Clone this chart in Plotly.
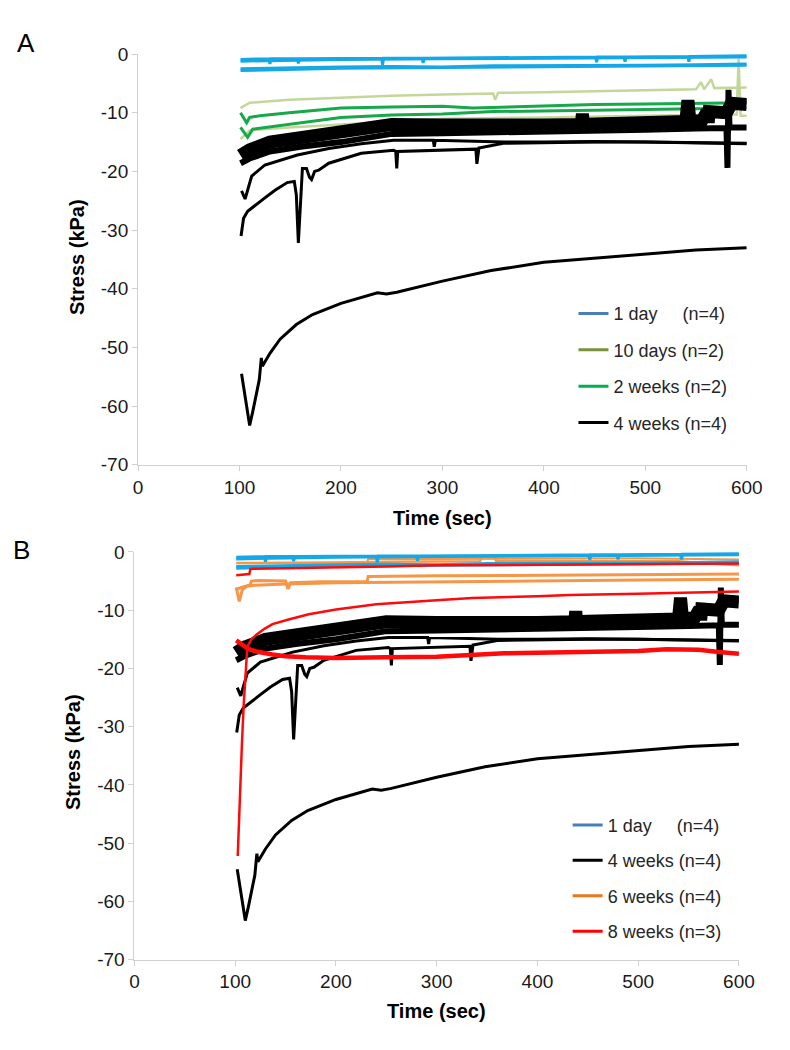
import plotly.graph_objects as go

# ---------------- data ----------------
# 1 day (blue) - shared by panels A and B
blue1_t = [101, 129, 130, 131, 157, 158, 159, 240, 241, 242, 280, 281, 282, 451, 452, 453, 479, 480, 481, 542, 543, 544, 600]
blue1_v = [-0.9, -0.8, -1.7, -0.8, -0.8, -1.6, -0.8, -0.7, -1.8, -0.7, -0.7, -1.5, -0.7, -0.5, -1.4, -0.5, -0.5, -1.3, -0.5, -0.4, -1.3, -0.4, -0.3]
blue2_t = [101, 200, 300, 400, 500, 600]
blue2_v = [-1.2, -0.9, -0.8, -0.7, -0.6, -0.5]
blue3_t = [101, 150, 200, 250, 300, 350, 400, 450, 500, 550, 600]
blue3_v = [-2.5, -2.3, -2.2, -2.1, -2.2, -2.0, -2.0, -1.9, -1.9, -1.8, -1.7]
blue4_t = [101, 200, 300, 400, 500, 600]
blue4_v = [-2.8, -2.4, -2.3, -2.2, -2.1, -1.9]

# 10 days (khaki) - panel A
khaki1_t = [101, 110, 149, 200, 250, 300, 350, 352, 355, 400, 450, 500, 550, 555, 558, 565, 568, 600]
khaki1_v = [-9.2, -8.3, -7.8, -7.4, -7.1, -6.9, -6.7, -7.8, -6.6, -6.5, -6.3, -6.2, -6.0, -4.8, -6.0, -4.3, -5.8, -5.7]
khaki2_t = [101, 105, 110, 149, 200, 300, 400, 450, 500, 550, 590, 592, 594, 600]
khaki2_v = [-14.5, -13.8, -13.0, -12.5, -12.0, -11.0, -10.8, -10.6, -10.5, -10.4, -10.3, -0.8, -10.5, -10.5]

# 2 weeks (green) - panel A
green1_t = [101, 107, 110, 120, 149, 200, 250, 300, 330, 400, 450, 500, 550, 600]
green1_v = [-10.0, -11.7, -10.8, -10.5, -10.0, -9.2, -9.0, -8.9, -9.2, -8.8, -8.6, -8.5, -8.4, -8.3]
green2_t = [101, 108, 113, 149, 200, 250, 300, 350, 400, 450, 500, 550, 600]
green2_v = [-12.5, -14.2, -12.8, -12.0, -10.8, -10.4, -10.2, -9.8, -9.7, -9.5, -9.4, -9.3, -9.2]

# 4 weeks (black) - shared by panels A and B
blackA_t = [101, 110, 130, 160, 200, 250, 300, 350, 400, 437, 438, 439, 450, 500, 540, 542, 544, 556, 558, 561, 562, 563, 580, 582, 585, 600]
blackA_v = [-17.3, -16.3, -15.0, -14.2, -13.3, -12.0, -12.1, -12.3, -12.1, -12.0, -10.2, -12.0, -11.9, -11.7, -11.5, -7.9, -11.5, -11.3, -9.8, -9.8, -11.7, -9.8, -10.0, -8.6, -8.4, -8.6]
blackB_t = [101, 110, 130, 160, 200, 230, 250, 300, 350, 400, 450, 500, 550, 580, 581, 582, 583, 600]
blackB_v = [-18.6, -17.8, -16.6, -15.8, -15.0, -14.2, -13.6, -13.5, -13.4, -13.2, -13.0, -12.9, -12.7, -12.6, -19.4, -6.1, -12.5, -12.5]
blackC_t = [102, 105.5, 112, 125, 157, 188, 220, 252, 291, 292, 293, 330, 361, 400, 450, 500, 550, 600]
blackC_v = [-23.3, -24.7, -20.8, -18.9, -17.2, -16.1, -15.3, -14.7, -14.7, -15.8, -14.7, -14.9, -15.0, -15.0, -14.9, -15.0, -15.1, -15.2]
blackD_t = [101.5, 104, 108, 115, 125, 135, 147, 154, 156, 158, 160, 162, 166, 169, 171, 174, 178, 188, 220, 252, 254, 255, 256, 300, 333, 334, 336, 360, 400, 450, 500, 550, 600]
blackD_v = [-31.0, -28.0, -26.8, -25.8, -24.5, -23.2, -21.9, -21.7, -24.0, -32.2, -26.0, -19.5, -19.5, -21.0, -21.4, -20.0, -19.8, -18.6, -16.9, -16.4, -16.6, -19.5, -16.6, -16.3, -16.2, -18.7, -16.0, -15.2, -15.1, -15.0, -15.0, -15.1, -15.3]
blackE_t = [102, 110, 113, 116, 119.5, 121.5, 122.5, 130, 140, 156, 172, 200, 220, 236, 245, 255, 300, 348, 400, 450, 500, 550, 600]
blackE_v = [-54.5, -63.3, -61.0, -58.5, -55.5, -51.8, -53.2, -51.0, -48.6, -46.1, -44.4, -42.5, -41.5, -40.7, -40.9, -40.6, -38.7, -36.9, -35.5, -34.8, -34.0, -33.4, -33.0]

# 6 weeks (orange) - panel B
orange1_t = [101, 150, 200, 250, 300, 343, 345, 357, 359, 400, 450, 500, 540, 570, 600]
orange1_v = [-1.9, -1.9, -1.8, -1.7, -1.6, -1.6, -0.7, -0.7, -1.6, -1.6, -1.6, -1.6, -1.6, -2.0, -2.3]
orange2_t = [101, 104, 107, 112, 115, 116, 124, 150, 152, 153, 155, 185, 231, 232, 300, 400, 500, 540, 542, 600]
orange2_v = [-6.1, -8.5, -6.5, -5.8, -5.6, -5.0, -4.9, -5.0, -6.2, -6.2, -5.3, -5.1, -5.1, -4.2, -4.1, -4.0, -3.9, -3.9, -3.8, -3.8]
orange3_t = [101, 105, 110, 120, 150, 200, 300, 400, 500, 600]
orange3_v = [-6.4, -6.2, -5.9, -5.7, -5.5, -5.3, -5.1, -4.9, -4.8, -4.7]
orange4_t = [230, 232, 300, 400, 500, 560, 600]
orange4_v = [-2.2, -1.2, -1.2, -1.1, -1.1, -1.2, -1.3]

# 8 weeks (red) - panel B
red1_t = [101, 114, 115, 116, 150, 200, 250, 300, 400, 500, 600]
red1_v = [-4.0, -3.8, -3.0, -2.9, -2.8, -2.7, -2.5, -2.3, -2.2, -2.1, -2.0]
red2_t = [102.5, 104.5, 106.6, 108.5, 110, 112, 116, 121, 129, 137, 153, 173, 200, 240, 300, 335, 400, 432, 500, 528, 560, 600]
red2_v = [-52.2, -42.0, -33.2, -26.0, -21.4, -16.3, -15.0, -14.2, -13.2, -12.4, -11.6, -10.7, -9.9, -9.0, -8.3, -7.9, -7.6, -7.4, -7.2, -7.1, -6.9, -6.8]
red3_t = [101, 105, 110, 115, 121, 137, 150, 170, 200, 250, 300, 367, 400, 464, 500, 528, 560, 580, 600]
red3_v = [-15.2, -15.8, -16.3, -16.8, -17.1, -17.6, -17.9, -18.1, -18.2, -18.1, -18.0, -17.4, -17.3, -17.3, -17.0, -16.7, -16.8, -17.2, -17.5]

# legends
legendA_names = ["1 day\u00a0\u00a0\u00a0\u00a0 (n=4)", "10 days (n=2)", "2 weeks (n=2)", "4 weeks (n=4)"]
legendA_colors = ["#4A7EBB", "#77933C", "#00B050", "#000000"]
legendB_names = ["1 day\u00a0\u00a0\u00a0\u00a0 (n=4)", "4 weeks (n=4)", "6 weeks (n=4)", "8 weeks (n=3)"]
legendB_colors = ["#4A7EBB", "#000000", "#E8771E", "#FF0000"]

# axes ticks
x_ticks = [0, 100, 200, 300, 400, 500, 600]
x_tick_text = ["0", "100", "200", "300", "400", "500", "600"]
y_ticks = [0, -10, -20, -30, -40, -50, -60, -70]
y_tick_text = ["0", "-10", "-20", "-30", "-40", "-50", "-60", "-70"]

# ---------------- styles ----------------
C_BLUE = "#14A8E6"
C_KHAKI = "#C4D79B"
C_GREEN = "#16A84A"
C_BLACK = "#000000"
C_ORANGE = "#F79646"
C_RED = "#FF0A0A"
FONT = "Arial, Liberation Sans, sans-serif"

fig = go.Figure()


def add(t, v, color, width, ax):
    xa, ya = ("x", "y") if ax == "A" else ("x2", "y2")
    fig.add_trace(go.Scatter(x=t, y=v, mode="lines", line=dict(color=color, width=width),
                             showlegend=False, hoverinfo="skip", xaxis=xa, yaxis=ya))


black_sets = [(blackA_t, blackA_v, 13), (blackB_t, blackB_v, 6), (blackC_t, blackC_v, 3),
              (blackD_t, blackD_v, 3), (blackE_t, blackE_v, 3)]
blue_sets = [(blue1_t, blue1_v), (blue2_t, blue2_v), (blue3_t, blue3_v), (blue4_t, blue4_v)]

# Panel A
add(khaki1_t, khaki1_v, C_KHAKI, 2.5, "A")
add(khaki2_t, khaki2_v, C_KHAKI, 2.5, "A")
add(green1_t, green1_v, C_GREEN, 3, "A")
add(green2_t, green2_v, C_GREEN, 3, "A")
for t, v, w in black_sets:
    add(t, v, C_BLACK, w, "A")
for t, v in blue_sets:
    add(t, v, C_BLUE, 3, "A")

# Panel B
for t, v, w in black_sets:
    add(t, v, C_BLACK, w, "B")
add(orange4_t, orange4_v, C_ORANGE, 2, "B")
add(orange1_t, orange1_v, C_ORANGE, 2.5, "B")
for t, v in blue_sets:
    add(t, v, C_BLUE, 3, "B")
add(orange2_t, orange2_v, C_ORANGE, 3, "B")
add(orange3_t, orange3_v, C_ORANGE, 3, "B")
add(red1_t, red1_v, C_RED, 2.5, "B")
add(red3_t, red3_v, C_RED, 4.5, "B")
add(red2_t, red2_v, C_RED, 2.5, "B")

# legend entries
for i, (n, c) in enumerate(zip(legendA_names, legendA_colors)):
    fig.add_trace(go.Scatter(x=[None], y=[None], mode="lines", line=dict(color=c, width=3), name=n,
                             legendgroup="a%d" % i, legend="legend", xaxis="x", yaxis="y"))
for i, (n, c) in enumerate(zip(legendB_names, legendB_colors)):
    fig.add_trace(go.Scatter(x=[None], y=[None], mode="lines", line=dict(color=c, width=3), name=n,
                             legendgroup="b%d" % i, legend="legend2", xaxis="x2", yaxis="y2"))

W, H = 790, 1050
axis_common = dict(showline=True, linecolor="#D0D0D0", linewidth=1, ticks="outside", ticklen=5,
                   tickcolor="#D0D0D0", showgrid=False, zeroline=False,
                   tickfont=dict(family=FONT, size=19, color="#1A1A1A"))

fig.update_layout(
    width=W, height=H, margin=dict(l=0, r=0, t=0, b=0),
    paper_bgcolor="white", plot_bgcolor="white",
    xaxis=dict(domain=[136.7 / W, 762 / W], anchor="y", range=[0, 600],
               tickvals=x_ticks, ticktext=x_tick_text, **axis_common),
    yaxis=dict(domain=[1 - 464 / H, 1 - 45 / H], anchor="x", range=[-70, 0],
               tickvals=y_ticks, ticktext=y_tick_text, **axis_common),
    xaxis2=dict(domain=[133 / W, 754 / W], anchor="y2", range=[0, 600],
                tickvals=x_ticks, ticktext=x_tick_text, **axis_common),
    yaxis2=dict(domain=[1 - 969 / H, 1 - 553 / H], anchor="x2", range=[-70, 0],
                tickvals=y_ticks, ticktext=y_tick_text, **axis_common),
    legend=dict(x=584 / W, y=1 - 291 / H, xanchor="left", yanchor="top", bgcolor="rgba(0,0,0,0)",
                font=dict(family=FONT, size=18, color="#262626"), tracegroupgap=10, itemwidth=30),
    legend2=dict(x=578 / W, y=1 - 813 / H, xanchor="left", yanchor="top", bgcolor="rgba(0,0,0,0)",
                 font=dict(family=FONT, size=18, color="#262626"), tracegroupgap=9, itemwidth=30),
    showlegend=True,
)

ann_font = dict(family=FONT, size=20, color="#000000")
annotations = [
    dict(text="A", x=22 / W, y=1 - 34 / H, font=dict(family=FONT, size=26, color="#000")),
    dict(text="B", x=17 / W, y=1 - 551 / H, font=dict(family=FONT, size=26, color="#000")),
    dict(text="<b>Time (sec)</b>", x=449 / W, y=1 - 518 / H, font=ann_font),
    dict(text="<b>Time (sec)</b>", x=443 / W, y=1 - 1021 / H, font=ann_font),
    dict(text="<b>Stress (kPa)</b>", x=74 / W, y=1 - 252 / H, font=ann_font, textangle=-90),
    dict(text="<b>Stress (kPa)</b>", x=70 / W, y=1 - 757 / H, font=ann_font, textangle=-90),
]
for a in annotations:
    fig.add_annotation(xref="paper", yref="paper", showarrow=False, xanchor="center", yanchor="middle", **a)

fig.write_html("out.html", config={"displayModeBar": False},
               post_script="document.body.style.margin='0';")
